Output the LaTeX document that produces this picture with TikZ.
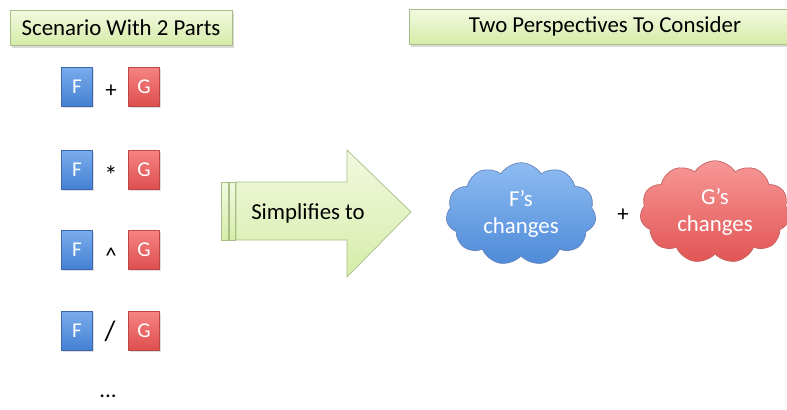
\documentclass[tikz,border=0pt]{standalone}
\usepackage{fontspec}
\setmainfont{Carlito}
\usetikzlibrary{shapes.symbols,shadows}
\definecolor{TitleTop}{RGB}{242,249,224}
\definecolor{TitleBot}{RGB}{214,236,168}
\definecolor{TitleLine}{RGB}{168,190,136}
\definecolor{FTop}{RGB}{122,172,236}
\definecolor{FBot}{RGB}{68,128,210}
\definecolor{FLine}{RGB}{62,102,172}
\definecolor{GTop}{RGB}{246,132,130}
\definecolor{GBot}{RGB}{222,78,78}
\definecolor{GLine}{RGB}{188,70,70}
\definecolor{FCloudTop}{RGB}{142,188,242}
\definecolor{FCloudBot}{RGB}{78,138,216}
\definecolor{GCloudTop}{RGB}{246,152,150}
\definecolor{GCloudBot}{RGB}{226,84,84}

\begin{document}
\begin{tikzpicture}[x=0.02cm,y=-0.02cm,
  every node/.style={font=\fontsize{13}{15.6}\selectfont},
  titlebox/.style={draw=TitleLine,top color=TitleTop,bottom color=TitleBot,
    minimum height=0.7cm,inner sep=0pt,
    drop shadow={shadow xshift=1pt,shadow yshift=-1.5pt,opacity=0.3}},
  fbox/.style={draw=FLine,top color=FTop,bottom color=FBot,text=white,
    minimum width=0.62cm,minimum height=0.78cm,inner sep=0pt,
    font=\fontsize{12}{14}\selectfont,
    drop shadow={shadow xshift=0.8pt,shadow yshift=-1pt,opacity=0.25}},
  gbox/.style={fbox,draw=GLine,top color=GTop,bottom color=GBot},
  arrowpart/.style={draw=TitleLine,top color=TitleTop,bottom color=TitleBot},
  changes/.style={cloud,cloud puffs=11,cloud puff arc=115,aspect=1.6,
    minimum width=3cm,minimum height=2.05cm,text=white,align=center,
    inner sep=0pt},
  fcloud/.style={changes,draw=FLine!80,top color=FCloudTop,bottom color=FCloudBot},
  gcloud/.style={changes,draw=GLine!85,top color=GCloudTop,bottom color=GCloudBot}]
\useasboundingbox (0,0) rectangle (787,409);

\node[titlebox,minimum width=4.44cm] (scenario) at (121,27.5) {Scenario With 2 Parts};
\node[titlebox,minimum width=7.84cm] (persp) at (605,26.5) {Two Perspectives To Consider};

\node[fbox] (F1) at (77,86.5) {F};
\node (op1) at (111,91) {+};
\node[gbox] (G1) at (144,86.5) {G};

\node[fbox] (F2) at (77,170) {F};
\node[font=\fontsize{15}{17}\selectfont] (op2) at (111,175) {*};
\node[gbox] (G2) at (144,170) {G};

\node[fbox] (F3) at (77,250) {F};
\node (op3) at (111,256) {\^{}};
\node[gbox] (G3) at (144,250) {G};

\node[fbox] (F4) at (77,331) {F};
\node[font=\fontsize{16}{18}\selectfont] (op4) at (110,331) {/};
\node[gbox] (G4) at (144,331) {G};

\node (more) at (108,396) {...};

\draw[arrowpart] (221,182) rectangle (228,240);
\draw[arrowpart] (229,182) rectangle (235,240);
\draw[arrowpart] (236,182) -- (347,182) -- (347,150) -- (411,212)
  -- (347,277) -- (347,240) -- (236,240) -- cycle;
\node (simp) at (308,213) {Simplifies to};

\node[fcloud] (Fchg) at (521,214) {F’s\\changes};
\node (plus) at (623,215) {+};
\node[gcloud] (Gchg) at (715,212) {G’s\\changes};

\end{tikzpicture}
\end{document}
